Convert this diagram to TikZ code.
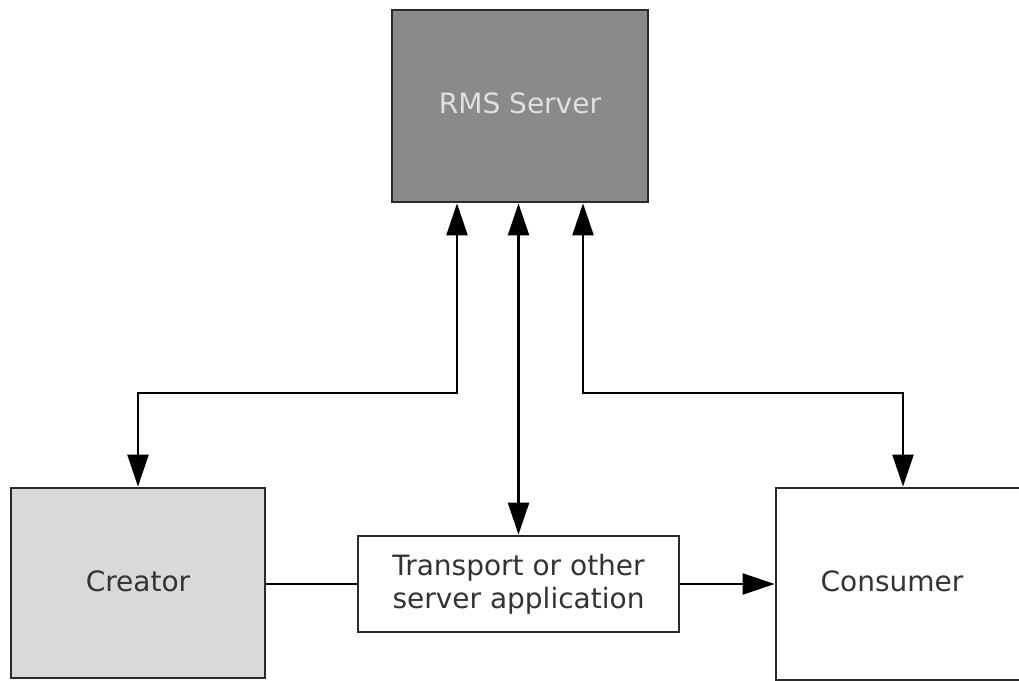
\documentclass[tikz,border=0pt]{standalone}
\usepackage{fontspec}
\setmainfont{DejaVu Sans}
\usetikzlibrary{arrows.meta}
\definecolor{rmsfill}{HTML}{8A8A8A}
\definecolor{creafill}{HTML}{D9D9D9}
\definecolor{edge}{HTML}{2A2A2A}
\definecolor{txt}{HTML}{333333}
\begin{document}
\begin{tikzpicture}[x=1bp,y=-1bp,
  lbl/.style={font=\fontsize{28bp}{33bp}\selectfont, text=txt, align=center},
  box/.style={draw=edge, line width=2.8bp, rectangle, inner sep=0pt, lbl},
  conn/.style={draw=black, line width=2.4bp},
  tip/.style={-{Triangle[length=32bp,width=21bp]}},
  dtip/.style={{Triangle[length=32bp,width=21bp]}-{Triangle[length=32bp,width=21bp]}}]
\useasboundingbox (0,0) rectangle (1019,681);
\node[box, fill=rmsfill, minimum width=256bp, minimum height=192bp] (rms) at (520,106) {};
\node[lbl, text=white!88!black] (rmslabel) at (520,103) {RMS Server};
\node[box, fill=creafill, minimum width=254bp, minimum height=190bp] (creator) at (138,583) {};
\node[lbl] (crealabel) at (138,581) {Creator};
\node[box, fill=white, minimum width=321bp, minimum height=96bp] (transport) at (518.5,584) {Transport or other\\server application};
\node[box, fill=white, minimum width=260bp, minimum height=192bp] (consumer) at (906,584) {};
\node[lbl] (conslabel) at (892,581) {Consumer};
\coordinate (l1) at (457,393);
\coordinate (l2) at (138,393);
\coordinate (r1) at (583,393);
\coordinate (r2) at (903,393);
\draw[conn, dtip] (rms.south -| l1) -- (l1) -- (l2) -- (l2 |- creator.north);
\draw[conn, dtip] (rms.south -| transport.north) -- (transport.north);
\draw[conn, dtip] (rms.south -| r1) -- (r1) -- (r2) -- (r2 |- consumer.north);
\draw[conn] (creator.east |- transport.west) -- (transport.west);
\draw[conn, tip] (transport.east) -- (consumer.west |- transport.east);
\end{tikzpicture}
\end{document}
